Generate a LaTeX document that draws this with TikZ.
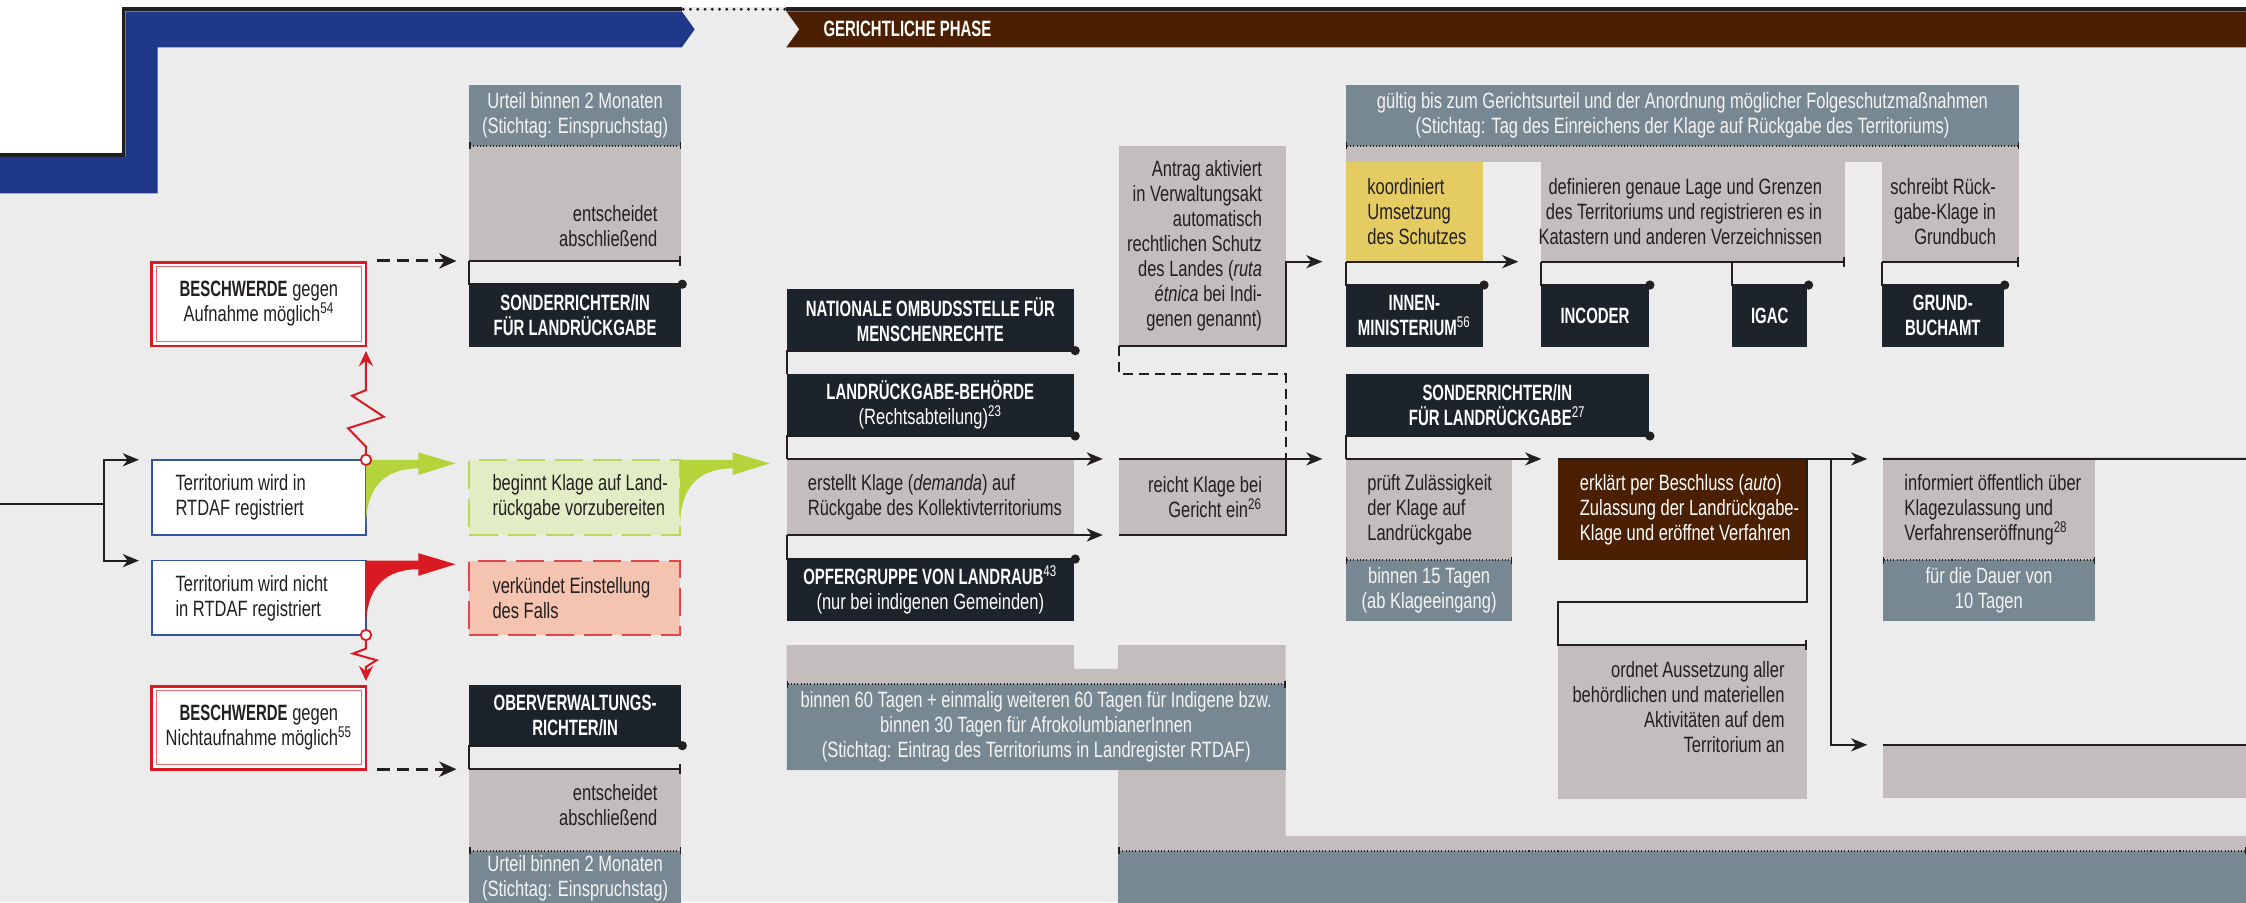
\documentclass[tikz,border=0pt]{standalone}
\usepackage{fontspec}
\setmainfont{Liberation Sans}[FakeStretch=0.745]
\newfontfamily\headfont{Liberation Sans}[FakeStretch=0.675]
\usetikzlibrary{arrows.meta,positioning}

\definecolor{bgc}{HTML}{ECECEC}
\definecolor{bluec}{HTML}{1F388A}
\definecolor{brownc}{HTML}{4A1F02}
\definecolor{navyc}{HTML}{1C232A}
\definecolor{grayc}{HTML}{C3BDBD}
\definecolor{slatec}{HTML}{788892}
\definecolor{yellowc}{HTML}{E5CC62}
\definecolor{lgreenc}{HTML}{E2EDC5}
\definecolor{greenb}{HTML}{BCD65E}
\definecolor{greenc}{HTML}{B5D33B}
\definecolor{pinkc}{HTML}{F5C4B0}
\definecolor{redb}{HTML}{E4474B}
\definecolor{redc}{HTML}{DA1A22}
\definecolor{inkc}{HTML}{231F20}
\definecolor{regblue}{HTML}{3553A5}
\definecolor{paper}{HTML}{F4F4F4}

\newcommand{\bodyfont}{\fontsize{11}{12.4}\selectfont}

\tikzset{
    cellbox/.style={inner sep=0pt, outer sep=0pt},
    actor/.style={fill=navyc, text=white, font=\headfont\bfseries\bodyfont, align=center},
    graybox/.style={fill=grayc},
    slatebox/.style={fill=slatec, text=paper, align=center},
    yellowbox/.style={fill=yellowc},
    brownbox/.style={fill=brownc},
    regbox/.style={fill=white, draw=regblue, line width=0.8pt},
    complaint/.style={fill=white, draw=redc, line width=1.4pt, align=center},
    prepbox/.style={fill=lgreenc, draw=greenb, line width=1pt, dash pattern=on 14pt off 5pt},
    closebox/.style={fill=pinkc, draw=redb, line width=1pt, dash pattern=on 14pt off 5pt},
    ltext/.style={align=left},
    rtext/.style={align=right},
    flow/.style={draw=inkc, line width=1pt},
    arr/.style={flow, -{Stealth[length=8pt, width=6.5pt, inset=2.4pt]}},
    enddot/.style={flow, -{Circle[length=4.5pt]}, shorten >=-0.1cm},
    endbar/.style={flow, -{Bar[width=5pt, line width=0.9pt]}},
    dotrule/.style={draw=inkc, line width=0.9pt, dash pattern=on 0.5pt off 1.1pt,
        {Bar[width=3.5pt, line width=0.7pt]}-{Bar[width=3.5pt, line width=0.7pt]}},
    dasharr/.style={flow, line width=1.5pt, dash pattern=on 6pt off 3.5pt,
        -{Stealth[length=8.5pt, width=7.5pt, inset=2.5pt]}, shorten <=0.2cm, shorten >=0.22cm},
    dashline/.style={flow, dash pattern=on 5pt off 3pt},
    zig/.style={draw=redc, line width=1pt, -{Stealth[length=7.5pt, width=7pt, inset=2.6pt]}, shorten >=0.09cm}
}

\newcommand{\tile}[7][]{
    \node[cellbox, #1, minimum width={(#5-#3)*0.025cm}, minimum height={(#6-#4)*0.025cm}]
        (#2) at ({(#3+#5)/2}, {(#4+#6)/2}) {#7};
}
\newcommand{\dotrule}[2]{
    \draw[dotrule] (#1) -- (#2);
}
\newcommand{\swoosh}[2]{
    \fill[#1, shift={(#2)}] (0,0) -- (36.6,0) -- (36.6,-5.2) -- (62.5,2.5) -- (36.6,10.6) -- (36.6,6)
        .. controls (14,6) and (0,18) .. (0,46.7) -- cycle;
}
\newcommand{\innerframe}[1]{
    \draw[redc!65, line width=0.6pt] ([shift={(3.2,3.2)}]#1.north west) rectangle ([shift={(-3.2,-3.2)}]#1.south east);
}

\begin{document}
\begin{tikzpicture}[x=0.025cm, y=-0.025cm, font=\bodyfont, text=inkc]
    \useasboundingbox (0,0) rectangle (1568,630);
    \clip (0,0) rectangle (1568,630);
    \fill[bgc] (0,0) rectangle (1568,630);
    \fill[white] (0,0) rectangle (1568,5);
    \fill[white] (0,0) rectangle (85,107);

    % phase header
    \fill[inkc] (85,5) rectangle (476,8);
    \fill[inkc] (85,5) rectangle (87.5,109.5);
    \fill[inkc] (0,107) rectangle (87.5,109.5);
    \fill[bluec] (87.5,8) -- (476,8) -- (485,20.5) -- (476,33) -- (110,33) -- (110,135) -- (0,135) -- (0,109.5) -- (87.5,109.5) -- cycle;
    \draw[inkc, line width=1.6pt, line cap=round, dash pattern=on 0pt off 3.6pt] (477,6.5) -- (549,6.5);
    \fill[inkc] (549,5) rectangle (1568,8);
    \fill[brownc] (549,8) -- (1568,8) -- (1568,33) -- (549,33) -- (558,20.5) -- cycle;
    \node[actor, fill=none, anchor=west] (phase) at (570,20.5) {GERICHTLICHE PHASE};

    % registration
    \tile[regbox]{reg}{106}{321}{255.5}{373.5}{}
    \tile[regbox]{noreg}{106}{391.4}{255.5}{443.3}{}
    \node[ltext, right=0.29cm of reg.west] (reg-t) {Territorium wird in\\RTDAF registriert};
    \node[ltext, right=0.29cm of noreg.west] (noreg-t) {Territorium wird nicht\\in RTDAF registriert};
    \tile[complaint]{beschup}{106}{183}{255.5}{241.5}{{\headfont\bfseries BESCHWERDE} gegen\\Aufnahme möglich\textsuperscript{54}}
    \tile[complaint]{beschdown}{106}{479}{255.5}{537}{{\headfont\bfseries BESCHWERDE} gegen\\Nichtaufnahme möglich\textsuperscript{55}}
    \innerframe{beschup}
    \innerframe{beschdown}

    \tile[prepbox]{prep}{327.7}{321}{474.8}{373.5}{}
    \node[ltext, right=0.28cm of prep.west] (prep-t) {beginnt Klage auf Land-\\rückgabe vorzubereiten};
    \tile[closebox]{close}{327.7}{391.4}{474.8}{443.3}{}
    \node[ltext, right=0.28cm of close.west] (close-t) {verkündet Einstellung\\des Falls};

    \swoosh{greenc}{reg.north east}
    \swoosh{greenc}{prep.north east}
    \swoosh{redc}{noreg.north east}

    \coordinate (src) at (0,352);
    \coordinate (fork) at (72.3,352);
    \draw[flow] (src) -- (fork);
    \draw[arr, shorten >=0.225cm] (fork) |- (reg.north west);
    \draw[arr, shorten >=0.225cm] (fork) |- (noreg.north west);

    \draw[zig] (reg.north east) -- ++(0,-9.2) -- ++(-12.5,-12.8) -- ++(25,-8) -- ++(-22.2,-14.7) -- ++(9.7,-3.9) -- (beschup.south east);
    \draw[zig] (noreg.south east) -- ++(0,9.5) -- ++(-9,3.5) -- ++(16.4,4.6) -- ++(-7.4,4.7) -- (beschdown.north east);
    \draw[redc, line width=0.9pt, fill=white] (reg.north east) circle (2.6pt);
    \draw[redc, line width=0.9pt, fill=white] (noreg.south east) circle (2.6pt);

    % appeal judges
    \tile[slatebox]{appealup}{327.5}{59.3}{475.5}{101.7}{Urteil binnen 2 Monaten\\(Stichtag: Einspruchstag)}
    \tile[graybox]{decideup}{327.5}{101.7}{475.5}{182.2}{}
    \node[rtext, left=0.29cm of decideup.east, yshift=-0.39cm] (decideup-t) {entscheidet\\abschließend};
    \tile[actor]{judgeup}{327.5}{198.4}{475.5}{242}{SONDERRICHTER/IN\\FÜR LANDRÜCKGABE}
    \dotrule{appealup.south west}{appealup.south east}
    \draw[endbar] (decideup.south west) -- (decideup.south east);
    \draw[enddot] (decideup.south west) -- (judgeup.north west) -- (judgeup.north east);
    \draw[dasharr] (beschup.north east |- decideup.south) -- (decideup.south west);

    \tile[actor]{judgedown}{327.5}{478.2}{475.5}{520.6}{OBERVERWALTUNGS-\\RICHTER/IN}
    \tile[graybox]{decidedown}{327.5}{537}{475.5}{594}{}
    \node[rtext, left=0.29cm of decidedown.east, yshift=0.08cm] (decidedown-t) {entscheidet\\abschließend};
    \tile[slatebox]{appealdown}{327.5}{594}{475.5}{632.8}{Urteil binnen 2 Monaten\\(Stichtag: Einspruchstag)}
    \dotrule{appealdown.north west}{appealdown.north east}
    \draw[endbar] (decidedown.north west) -- (decidedown.north east);
    \draw[enddot] (decidedown.north west) -- (judgedown.south west) -- (judgedown.south east);
    \draw[dasharr] (beschdown.south east) -- (decidedown.north west);

    % claim preparation
    \tile[actor]{ombud}{549.2}{201.8}{749.8}{244.8}{NATIONALE OMBUDSSTELLE FÜR\\MENSCHENRECHTE}
    \tile[actor]{agency}{549.2}{261.3}{749.8}{304.4}{LANDRÜCKGABE-BEHÖRDE\\{\normalfont (Rechtsabteilung)\textsuperscript{23}}}
    \tile[graybox]{claim}{549.2}{320.4}{749.8}{373.5}{}
    \node[ltext, right=0.245cm of claim.west] (claim-t) {erstellt Klage (\textit{demanda}) auf\\Rückgabe des Kollektivterritoriums};
    \tile[actor]{victims}{549.2}{390.3}{749.8}{433.3}{OPFERGRUPPE VON LANDRAUB\textsuperscript{\normalfont 43}\\{\normalfont (nur bei indigenen Gemeinden)}}

    \fill[grayc] (549.2,450.3) -- (749.8,450.3) -- (749.8,467) -- (780.6,467) -- (780.6,450.3) -- (897.6,450.3)
        -- (897.6,583.6) -- (1568,583.6) -- (1568,594) -- (780.6,594) -- (780.6,537.6) -- (549.2,537.6) -- cycle;
    \tile[slatebox]{term}{549.2}{477.7}{897.6}{537.6}{binnen 60 Tagen + einmalig weiteren 60 Tagen für Indigene bzw.\\binnen 30 Tagen für AfrokolumbianerInnen\\(Stichtag: Eintrag des Territoriums in Landregister RTDAF)}
    \tile[slatebox]{termlow}{780.6}{594}{1568}{640}{}
    \dotrule{term.north west}{term.north east}
    \dotrule{termlow.north west}{termlow.north east}

    \tile[graybox]{request}{781.1}{101.9}{897.6}{241.6}{}
    \node[rtext, left=0.29cm of request.east] (request-t) {Antrag aktiviert\\in Verwaltungsakt\\automatisch\\rechtlichen Schutz\\des Landes (\textit{ruta}\\\textit{étnica} bei Indi-\\genen genannt)};
    \tile[graybox]{file}{781.1}{320.4}{897.6}{373.5}{}
    \node[rtext, left=0.29cm of file.east] (file-t) {reicht Klage bei\\Gericht ein\textsuperscript{26}};

    \draw[enddot] (agency.north west) -- (ombud.south west) -- (ombud.south east);
    \draw[enddot] (claim.north west) -- (agency.south west) -- (agency.south east);
    \draw[arr, shorten >=0.28cm] (claim.north west) -- (file.north west);
    \draw[arr, shorten >=0.28cm] (claim.south west) -- (file.south west);
    \draw[enddot] (claim.south west) -- (victims.north west) -- (victims.north east);

    % protection
    \tile[slatebox]{valid}{939.6}{59.3}{1409.6}{101.7}{gültig bis zum Gerichtsurteil und der Anordnung möglicher Folgeschutzmaßnahmen\\(Stichtag: Tag des Einreichens der Klage auf Rückgabe des Territoriums)}
    \tile[graybox]{strip}{939.6}{101.7}{1409.6}{112.9}{}
    \tile[yellowbox]{coord}{939.6}{112.9}{1035.2}{182.7}{}
    \node[ltext, right=0.25cm of coord.west] (coord-t) {koordiniert\\Umsetzung\\des Schutzes};
    \tile[graybox]{survey}{1076}{112.9}{1288}{182.7}{}
    \node[rtext, left=0.275cm of survey.east] (survey-t) {definieren genaue Lage und Grenzen\\des Territoriums und registrieren es in\\Katastern und anderen Verzeichnissen};
    \tile[graybox]{record}{1314}{112.9}{1409.6}{182.7}{}
    \node[rtext, left=0.28cm of record.east] (record-t) {schreibt Rück-\\gabe-Klage in\\Grundbuch};
    \tile[actor]{interior}{939.6}{199}{1035.2}{242}{INNEN-\\MINISTERIUM\textsuperscript{\normalfont 56}}
    \tile[actor]{incoder}{1076}{199}{1151}{242}{INCODER}
    \tile[actor]{igac}{1209.2}{199}{1261.8}{242}{IGAC}
    \tile[actor]{registry}{1314}{199}{1398.7}{242}{GRUND-\\BUCHAMT}
    \dotrule{valid.south west}{valid.south east}

    \draw[arr, shorten >=0.41cm] (request.south west) -- (request.south east) -- (request.east |- coord.south) -- (coord.south west);
    \draw[dashline] (request.south west) -- (request.south west |- agency.north) -- (request.south east |- agency.north) -- (file.north east);
    \draw[arr, shorten >=0.4cm] (coord.south west) -- (survey.south west);
    \draw[enddot] (coord.south west) -- (interior.north west) -- (interior.north east);
    \draw[endbar] (survey.south west) -- (survey.south east);
    \draw[enddot] (survey.south west) -- (incoder.north west) -- (incoder.north east);
    \draw[enddot] (igac.north west |- survey.south) -- (igac.north west) -- (igac.north east);
    \draw[endbar] (record.south west) -- (record.south east);
    \draw[enddot] (record.south west) -- (registry.north west) -- (registry.north east);

    % court
    \tile[actor]{judge}{939.6}{261.1}{1151}{304.4}{SONDERRICHTER/IN\\FÜR LANDRÜCKGABE\textsuperscript{\normalfont 27}}
    \tile[graybox]{check}{939.6}{320.4}{1055.8}{391}{}
    \node[ltext, right=0.25cm of check.west] (check-t) {prüft Zulässigkeit\\der Klage auf\\Landrückgabe};
    \tile[slatebox]{checkterm}{939.6}{391}{1055.8}{433.3}{binnen 15 Tagen\\(ab Klageeingang)}
    \tile[brownbox]{admit}{1087.8}{320.4}{1261.4}{391}{}
    \node[ltext, text=white, right=0.255cm of admit.west] (admit-t) {erklärt per Beschluss (\textit{auto})\\Zulassung der Landrückgabe-\\Klage und eröffnet Verfahren};
    \tile[graybox]{suspend}{1087.8}{450.3}{1261.4}{557.6}{}
    \node[rtext, left=0.265cm of suspend.east, yshift=0.25cm] (suspend-t) {ordnet Aussetzung aller\\behördlichen und materiellen\\Aktivitäten auf dem\\Territorium an};
    \tile[graybox]{inform}{1314.4}{320.4}{1462.6}{391}{}
    \node[ltext, right=0.255cm of inform.west] (inform-t) {informiert öffentlich über\\Klagezulassung und\\Verfahrenseröffnung\textsuperscript{28}};
    \tile[slatebox]{informterm}{1314.4}{391}{1462.6}{433.3}{für die Dauer von\\10 Tagen}
    \tile[graybox]{onward}{1314.4}{520}{1568}{557}{}
    \dotrule{check.south west}{check.south east}
    \dotrule{inform.south west}{inform.south east}

    \draw[arr, shorten >=0.41cm] (file.north west) -- (check.north west);
    \draw[flow] (file.north east) -- (file.south east) -- (file.south west);
    \draw[enddot] (check.north west) -- (judge.south west) -- (judge.south east);
    \draw[arr, shorten >=0.295cm] (check.north west) -- (admit.north west);
    \draw[arr, shorten >=0.27cm] (admit.north west) -- (inform.north west);
    \coordinate (hold) at (1087.8,420.5);
    \draw[endbar] (admit.north east) -- (admit.east |- hold) -- (hold) -- (suspend.north west) -- (suspend.north east);
    \coordinate (split) at (1278.2,320.4);
    \draw[arr, shorten >=0.27cm] (split) -- (split |- onward.north) -- (onward.north west);
    \coordinate (rim) at (1568,320.4);
    \draw[flow] (inform.north west) -- (rim);
    \draw[flow] (onward.north west) -- (onward.north east);
\end{tikzpicture}
\end{document}
